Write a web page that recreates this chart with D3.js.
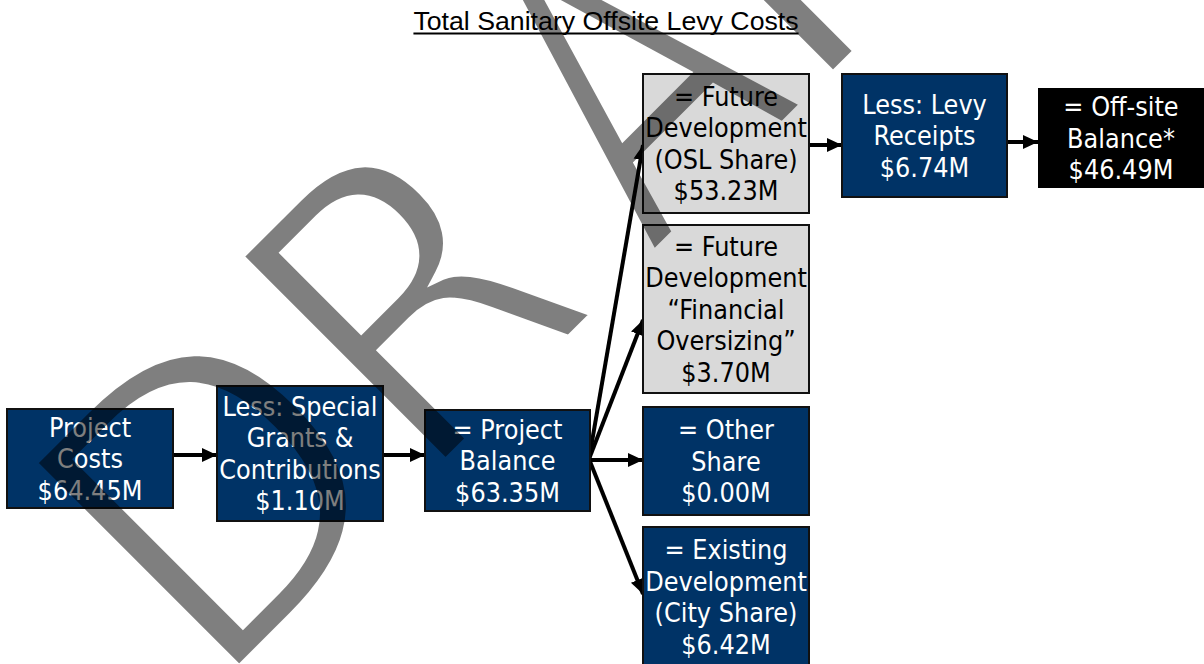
<!DOCTYPE html>
<html>
<head>
<meta charset="utf-8">
<script src="https://cdn.jsdelivr.net/npm/d3@7"></script>
<style>
  body { margin: 0; background: #fff; }
  svg { display: block; }
</style>
</head>
<body>
<svg id="chart"></svg>
<script>
const TITLE = 'Total Sanitary Offsite Levy Costs';
const WATERMARK = ['D', 'R', 'A', 'F', 'T'];

const NODES = ['cost', 'grants', 'balance', 'osl', 'oversize', 'other', 'city', 'receipts', 'offsite'];
const LABELS = [
    ['Project', 'Costs'],
    ['Less: Special', 'Grants &', 'Contributions'],
    ['= Project', 'Balance'],
    ['= Future', 'Development', '(OSL Share)'],
    ['= Future', 'Development', '\u201CFinancial', 'Oversizing\u201D'],
    ['= Other', 'Share'],
    ['= Existing', 'Development', '(City Share)'],
    ['Less: Levy', 'Receipts'],
    ['= Off-site', 'Balance*']
];
const VALUES = [64.45, 1.10, 63.35, 53.23, 3.70, 0.00, 6.42, 6.74, 46.49];
const KINDS = ['navy', 'navy', 'navy', 'grey', 'grey', 'navy', 'navy', 'navy', 'black'];
const LINKS = [
    ['cost', 'grants'],
    ['grants', 'balance'],
    ['balance', 'osl'],
    ['balance', 'oversize'],
    ['balance', 'other'],
    ['balance', 'city'],
    ['osl', 'receipts'],
    ['receipts', 'offsite']
];

// layout (x, y, w, h) of each box, and arrow heights
const BOXES = {
    cost: [7, 409, 166, 99],
    grants: [217, 386, 166, 135],
    balance: [425, 410, 165, 101],
    osl: [643, 74, 166, 139],
    oversize: [643, 225, 166, 168],
    other: [643, 407, 166, 108],
    city: [643, 527, 166, 140],
    receipts: [842, 74, 165, 123],
    offsite: [1038, 88, 166, 100]
};
const ARROW_Y = {
    'cost-grants': [455, 455],
    'grants-balance': [455, 455],
    'balance-osl': [459, 145],
    'balance-oversize': [459, 320],
    'balance-other': [460, 460],
    'balance-city': [459, 594],
    'osl-receipts': [145, 145],
    'receipts-offsite': [142, 142]
};
// watermark letter offsets along its baseline and horizontal squeeze
const WM_X = [3, 295, 624, 843, 1061];
const WM_SX = [0.936, 0.936, 0.8, 0.936, 0.936];

const COLORS = { navy: '#003366', grey: '#d9d9d9', black: '#000000' };
const TEXT_COLORS = { navy: '#ffffff', grey: '#000000', black: '#ffffff' };

const WIDTH = 1204;
const HEIGHT = 664;
const LINE_H = 31.5;
const FONT = '"DejaVu Sans", Verdana, sans-serif';

const svg = d3.select('#chart')
    .attr('width', WIDTH)
    .attr('height', HEIGHT);

const defs = svg.append('defs');
defs.append('marker')
    .attr('id', 'head')
    .attr('markerUnits', 'userSpaceOnUse')
    .attr('markerWidth', 16)
    .attr('markerHeight', 16)
    .attr('viewBox', '0 -8 16 16')
    .attr('refX', 15)
    .attr('refY', 0)
    .attr('orient', 'auto')
    .append('path')
    .attr('d', 'M0,-7L15,0L0,7Z')
    .attr('fill', '#000');

// title
const title = svg.append('text')
    .attr('x', 606)
    .attr('y', 29.5)
    .attr('text-anchor', 'middle')
    .attr('font-family', '"Liberation Sans", Arial, sans-serif')
    .attr('font-size', 26.7)
    .attr('fill', '#000')
    .text(TITLE);
const tw = title.node().getComputedTextLength();
svg.append('line')
    .attr('x1', 606 - tw / 2)
    .attr('x2', 606 + tw / 2)
    .attr('y1', 33.5)
    .attr('y2', 33.5)
    .attr('stroke', '#000')
    .attr('stroke-width', 2);

const nodes = NODES.map((id, i) => ({
    id: id,
    lines: LABELS[i].concat(['$' + VALUES[i].toFixed(2) + 'M']),
    kind: KINDS[i],
    box: BOXES[id]
}));
const byId = new Map(nodes.map(d => [d.id, d]));

// arrows
svg.append('g')
    .selectAll('line')
    .data(LINKS)
    .enter()
    .append('line')
    .attr('x1', d => byId.get(d[0]).box[0] + byId.get(d[0]).box[2] - 1)
    .attr('y1', d => ARROW_Y[d.join('-')][0])
    .attr('x2', d => byId.get(d[1]).box[0])
    .attr('y2', d => ARROW_Y[d.join('-')][1])
    .attr('stroke', '#000')
    .attr('stroke-width', 4)
    .attr('marker-end', 'url(#head)');

// boxes
const node = svg.append('g')
    .selectAll('g')
    .data(nodes)
    .enter()
    .append('g')
    .attr('transform', d => `translate(${d.box[0]},${d.box[1]})`);

node.append('rect')
    .attr('x', 0)
    .attr('y', 0)
    .attr('width', d => d.box[2])
    .attr('height', d => d.box[3])
    .attr('fill', d => COLORS[d.kind])
    .attr('stroke', d => d.kind === 'black' ? 'none' : '#111')
    .attr('stroke-width', 2);

node.each(function (d) {
    const g = d3.select(this);
    const cx = d.box[2] / 2;
    const cy = d.box[3] / 2;
    const n = d.lines.length;
    d.lines.forEach((t, i) => {
        g.append('text')
            .attr('transform', `translate(${cx},${cy + (i - (n - 1) / 2) * LINE_H}) scale(0.89,1)`)
            .attr('text-anchor', 'middle')
            .attr('dominant-baseline', 'central')
            .attr('font-family', FONT)
            .attr('font-size', 27)
            .attr('fill', TEXT_COLORS[d.kind])
            .text(t);
    });
});

// watermark, thinned a little through a mask
function drawWatermark(parent) {
    return parent.append('g')
        .attr('transform', 'translate(211,700) rotate(-45)')
        .selectAll('text')
        .data(WATERMARK)
        .enter()
        .append('text')
        .attr('transform', (d, i) => `translate(${WM_X[i]},0) scale(${WM_SX[i]},1)`)
        .attr('font-family', FONT)
        .attr('font-size', 405)
        .text(d => d);
}

drawWatermark(defs.append('mask')
        .attr('id', 'thin')
        .attr('maskUnits', 'userSpaceOnUse')
        .attr('x', 0).attr('y', 0)
        .attr('width', WIDTH).attr('height', HEIGHT))
    .attr('fill', '#fff')
    .attr('stroke', '#000')
    .attr('stroke-width', 12);

drawWatermark(svg.append('g').attr('mask', 'url(#thin)'))
    .attr('fill', '#000')
    .attr('fill-opacity', 0.5);
</script>
</body>
</html>
